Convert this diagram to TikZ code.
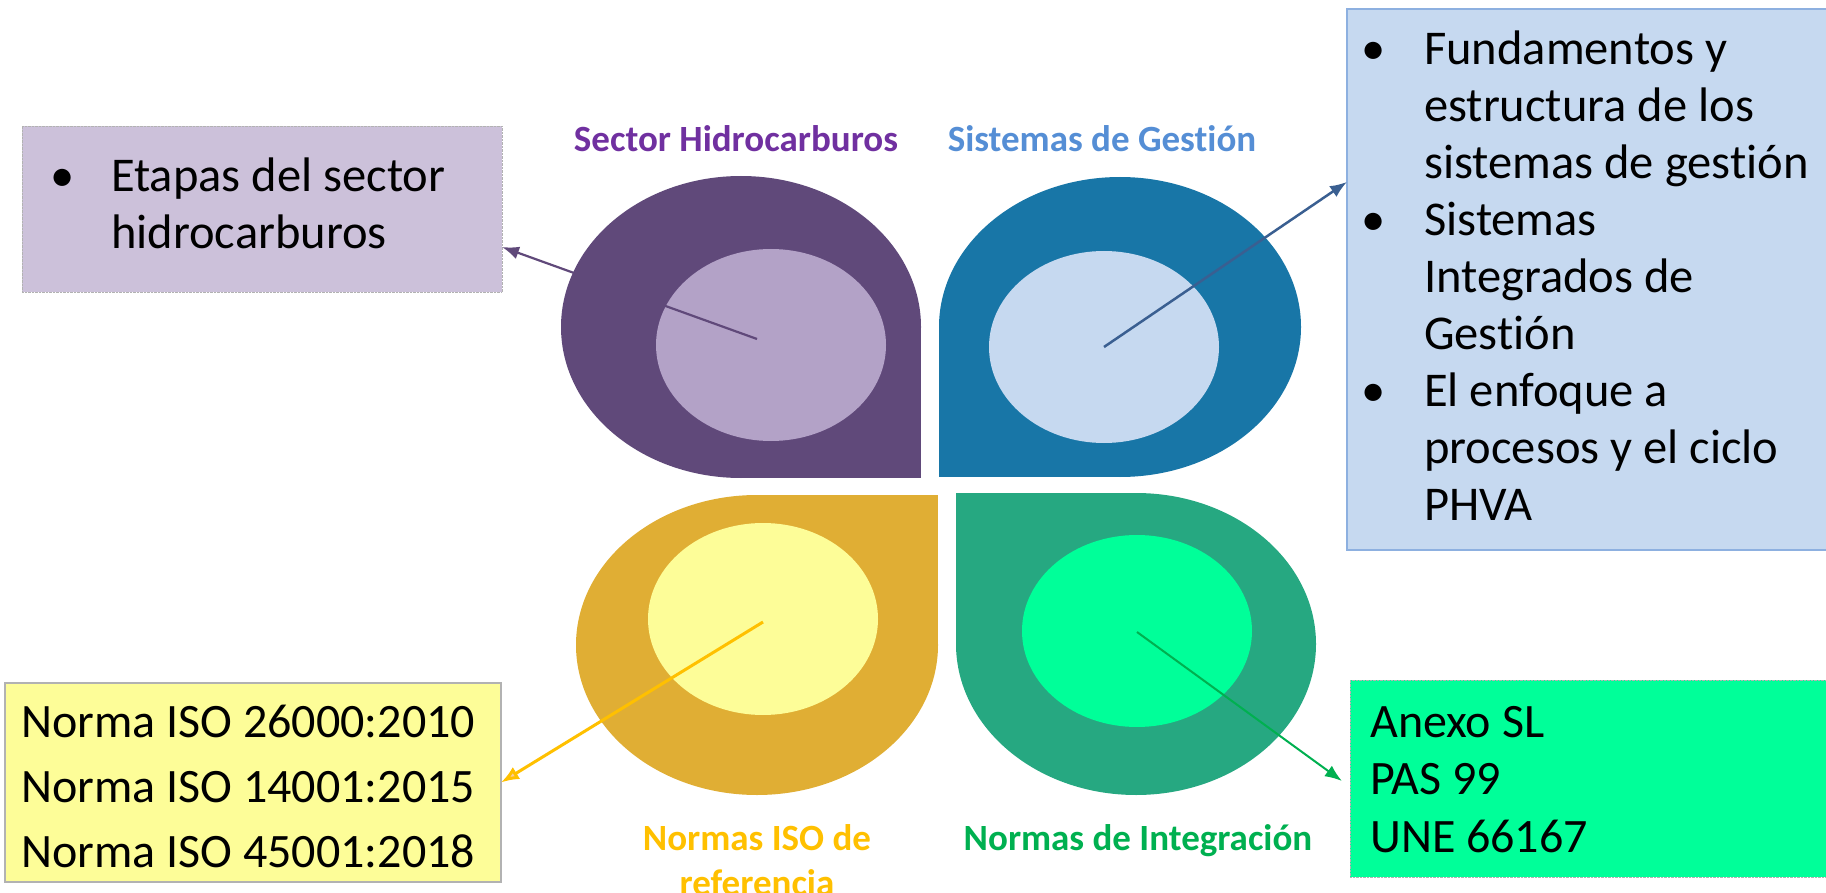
\documentclass[tikz,border=0pt]{standalone}
\usepackage{fontspec}
\setmainfont{Carlito}[Ligatures=NoCommon]
\usetikzlibrary{arrows.meta}

\definecolor{hcdark}{RGB}{96,73,122}
\definecolor{hclight}{RGB}{179,162,199}
\definecolor{hcfill}{RGB}{204,193,218}
\definecolor{hctitle}{RGB}{112,48,160}
\definecolor{sgdark}{RGB}{24,118,167}
\definecolor{sglight}{RGB}{198,217,240}
\definecolor{sgborder}{RGB}{141,176,224}
\definecolor{sgtitle}{RGB}{85,142,213}
\definecolor{sgarrow}{RGB}{58,95,145}
\definecolor{isodark}{RGB}{224,174,52}
\definecolor{isolight}{RGB}{253,253,152}
\definecolor{isotitle}{RGB}{255,192,0}
\definecolor{isotip}{RGB}{250,205,160}
\definecolor{indark}{RGB}{38,168,129}
\definecolor{inlight}{RGB}{0,255,153}
\definecolor{intitle}{RGB}{0,176,80}

\tikzset{
  title/.style={font=\bfseries\fontsize{37}{45}\selectfont, anchor=base, inner sep=0pt},
  boxtext/.style={font=\fontsize{48.5}{57}\selectfont, anchor=base west, inner sep=0pt},
  card/.style={rectangle, inner sep=0pt, outer sep=0pt},
}

\begin{document}
\begin{tikzpicture}[x=1pt, y=-1pt, >={Latex[length=17pt, width=13pt]}]
  \useasboundingbox (0,0) rectangle (1826,893);

  % petals
  \fill[hcdark] (741,327) ellipse [x radius=180, y radius=151];
  \fill[hcdark] (741,327) rectangle (921,478);
  \fill[hclight] (771,345) ellipse [x radius=115, y radius=96];

  \fill[sgdark] (1120,327) ellipse [x radius=181, y radius=150];
  \fill[sgdark] (939,327) rectangle (1120,477);
  \fill[sglight] (1104,347) ellipse [x radius=115, y radius=96];

  \fill[isodark] (757,645) ellipse [x radius=181, y radius=150];
  \fill[isodark] (757,495) rectangle (938,645);
  \fill[isolight] (763,619) ellipse [x radius=115, y radius=96];

  \fill[indark] (1136,644) ellipse [x radius=180, y radius=151];
  \fill[indark] (956,493) rectangle (1136,644);
  \fill[inlight] (1137,631) ellipse [x radius=115, y radius=96];

  \coordinate (hc) at (757,339);
  \coordinate (sg) at (1104,347);
  \coordinate (iso) at (763,622);
  \coordinate (in) at (1137,632);

  \node[title, text=hctitle] (hctitle) at (736,152) {Sector Hidrocarburos};
  \node[title, text=sgtitle] (sgtitle) at (1102,152) {Sistemas de Gestión};
  \node[title, text=isotitle] (isotitle) at (757,850)
    {\begin{tabular}[t]{@{}c@{}}Normas ISO de\\referencia\end{tabular}};
  \node[title, text=intitle] (intitle) at (1138,850) {Normas de Integración};

  % boxes
  \node[card, fill=hcfill, draw=black!30, densely dotted,
        minimum width=480pt, minimum height=166pt] (hcbox) at (262,209) {};
  \node[card, fill=sglight, draw=sgborder, line width=1.5pt,
        minimum width=483pt, minimum height=541pt] (sgbox) at (1588.5,279.5) {};
  \node[card, fill=isolight, draw=black!30, line width=1.5pt,
        minimum width=496pt, minimum height=199pt] (isobox) at (253,782.5) {};
  \node[card, fill=inlight, draw=black!30, densely dotted,
        minimum width=480pt, minimum height=197pt] (inbox) at (1590,778.5) {};

  \node[boxtext] (hctext) at (50,192) {\begin{tabular}[t]{@{}l@{}l@{}}
    \makebox[61pt][l]{\textbullet} & Etapas del sector\\
    & hidrocarburos\end{tabular}};
  \node[boxtext] (sgtext) at (1361,65) {\begin{tabular}[t]{@{}l@{}l@{}}
    \makebox[63pt][l]{\textbullet} & Fundamentos y\\
    & estructura de los\\
    & sistemas de gestión\\
    \makebox[63pt][l]{\textbullet} & Sistemas\\
    & Integrados de\\
    & Gestión\\
    \makebox[63pt][l]{\textbullet} & El enfoque a\\
    & procesos y el ciclo\\
    & PHVA\end{tabular}};
  \node[boxtext, font=\fontsize{48}{65}\selectfont] (isotext) at (21,737)
    {\begin{tabular}[t]{@{}l@{}}Norma ISO 26000:2010\\
    Norma ISO 14001:2015\\
    Norma ISO 45001:2018\end{tabular}};
  \node[boxtext, font=\fontsize{48}{57.5}\selectfont] (intext) at (1370,737)
    {\begin{tabular}[t]{@{}l@{}}Anexo SL\\
    PAS 99\\
    UNE 66167\end{tabular}};

  \draw [->, hcdark, line width=2.2pt] (hc) -- (hcbox.-9.2);
  \draw [->, sgarrow, line width=2.5pt] (sg) -- (sgbox.158.3);
  \draw [-{Latex[length=18pt, width=14pt, fill=isotip]}, isotitle, line width=3pt] (iso) -- (isobox.east);
  \draw [->, intitle, line width=2pt, shorten >=10pt] (in) -- (inbox.182.4);

\end{tikzpicture}
\end{document}
